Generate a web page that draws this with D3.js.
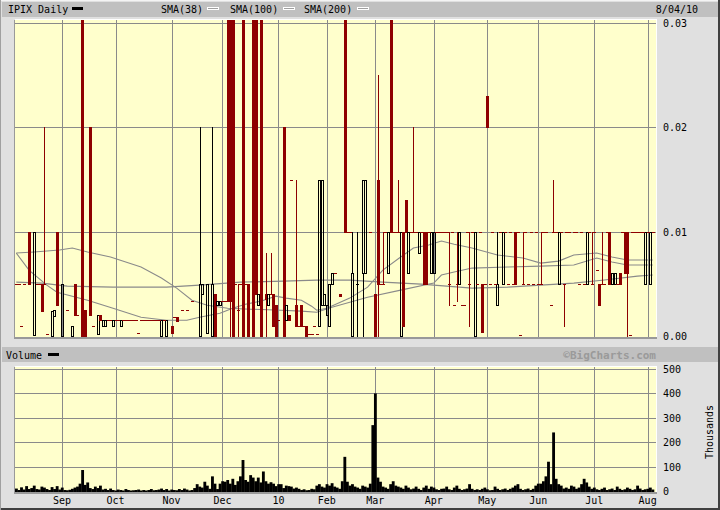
<!DOCTYPE html>
<html><head><meta charset="utf-8">
<script src="https://cdn.jsdelivr.net/npm/d3@7"></script>
<style>body{margin:0;background:#e0e0e0}svg{display:block}</style>
</head><body><svg id="c" width="720" height="510"></svg>
<script>
// ---- data ----
const monthLabels = ["Sep","Oct","Nov","Dec","10","Feb","Mar","Apr","May","Jun","Jul","Aug"];
const monthStartDays = [18,39,61,81,103,122,141,164,185,205,227,248];
const priceTicks = [0,0.01,0.02,0.03];
const volumeTicks = [0,100,200,300,400,500];
// [tradingDay, open, high, low, close, redFlag]
const candleRows = [
[5,.01,.01,.005,.005,1],[7,.0001,.01,.0001,.01,0],[10,.005,.005,.0024,.0024,1],[11,.005,.02,.005,.005,1],
[14,0,.0024,0,.0024,0],[15,.0019,.0025,.0019,.0025,0],[16,.01,.01,.003,.003,1],[18,0,.005,0,.005,0],
[22,0,.001,0,.001,0],[23,.005,.005,.002,.002,1],[26,.04,.04,0,0,1],[27,.0025,.0025,0,0,1],
[29,.02,.02,.002,.002,1],[32,.0002,.002,.0002,.002,0],[33,.002,.002,.0015,.0015,1],[34,.001,.0015,.001,.0015,0],
[35,.001,.0015,.001,.0015,0],[38,.001,.0015,.001,.0015,0],[41,.001,.0015,.001,.0015,0],[57,0,.0015,0,.0015,0],
[59,0,.0015,0,.0015,0],[61,.001,.001,.0003,.0003,1],[63,.0018,.0018,.0014,.0014,1],[72,0,.02,0,.005,0],
[73,.004,.005,.004,.005,0],[75,.0003,.005,.0003,.005,0],[77,0,.02,0,.005,0],[78,.004,.004,0,0,1],
[79,.003,.0034,.003,.0034,0],[80,.003,.0034,.003,.0034,0],[83,.04,.04,.0034,.0034,1],[84,.04,.04,0,.0034,1],
[85,.04,.04,0,0,1],[87,.0025,.005,0,.0025,1],[89,.04,.04,0,0,1],[91,.005,.005,0,0,1],
[93,.04,.04,0,0,1],[94,.04,.04,.004,.004,1],[95,.003,.004,.003,.004,0],[96,.04,.04,0,0,1],
[98,.004,.008,0,.0035,1],[99,.003,.004,.003,.004,0],[100,.004,.008,.004,.004,1],[101,.004,.004,.001,.001,1],
[102,.003,.003,0,0,1],[105,.02,.02,0,0,1],[106,.0015,.003,.0015,.003,0],[107,.002,.002,.0015,.0015,1],
[110,.003,.015,.001,.001,1],[112,.003,.003,.001,.001,1],[114,.001,.001,0,0,1],[119,.001,.015,.001,.015,0],
[120,.003,.015,.003,.015,0],[121,.003,.004,.003,.004,0],[122,.002,.003,.002,.003,0],[123,.001,.005,.001,.005,0],
[124,.005,.006,.005,.006,0],[127,.004,.004,.0038,.0038,1],[129,.04,.04,.01,.01,1],[132,0,.01,0,.006,0],
[134,.005,.01,0,.005,0],[136,.006,.015,0,.015,0],[137,.006,.015,.006,.015,0],[141,.004,.004,0,0,1],
[142,.015,.025,0,.005,1],[144,.005,.01,.005,.005,1],[146,.006,.01,.006,.01,0],[147,.04,.04,.01,.01,1],
[150,.01,.015,.01,.01,1],[151,0,.01,0,.01,0],[152,.01,.01,.001,.001,1],[153,.013,.013,.01,.01,1],
[154,.006,.01,.006,.01,0],[156,.01,.02,.01,.01,1],[158,.008,.01,.008,.01,0],[160,.01,.01,.005,.005,1],
[161,.01,.01,.005,.005,1],[163,.006,.01,.006,.01,0],[164,.006,.01,.006,.01,0],[170,.005,.01,.003,.005,1],
[173,.005,.01,.0034,.005,1],[174,.005,.01,.005,.01,0],[178,.005,.01,.001,.005,1],[180,0,.01,0,.01,0],
[183,.005,.005,.0004,.0004,1],[185,.023,.023,.02,.02,1],[189,.003,.01,.003,.005,0],[191,.005,.01,.005,.01,0],
[196,.01,.01,.005,.005,1],[199,.005,.01,.005,.005,1],[206,.005,.01,.005,.005,1],[211,.01,.015,.01,.01,1],
[213,.005,.01,.005,.01,0],[215,.005,.005,.001,.005,1],[224,.005,.01,.005,.01,0],[226,.005,.01,.005,.005,1],
[229,.005,.005,.003,.003,1],[230,.005,.01,.005,.005,1],[233,.01,.01,.005,.005,1],[234,.005,.006,.005,.006,0],
[235,.005,.006,.005,.006,0],[237,.006,.006,.005,.005,1],[239,.01,.01,.006,.006,1],[240,.01,.01,0,.006,1],
[247,.005,.01,.005,.01,0],[249,.005,.01,.005,.01,0]
];
// [tradingDay, price] days where open = close (flat dash)
const flatRows = [
[0,.005],[1,.005],[2,.001],[3,.005],[8,.005],[9,.005],[12,.0002],[20,.0025],[24,.002],[30,.001],
[36,.0015],[37,.0015],[39,.0015],[40,.0015],[42,.0015],[43,.0015],[44,.0015],[45,.0015],[46,.0015],[47,.0015],
[48,.0003],[49,.0015],[50,.0015],[51,.0015],[52,.0015],[53,.0015],[54,.0015],[55,.0015],[56,.0015],[58,.0015],
[62,.0018],[65,.0025],[67,.0025],[69,.0034],[81,.0034],[82,.0034],[86,.005],[88,.005],[90,.005],[103,.0015],
[108,.015],[111,.001],[113,.001],[115,.0002],[116,.0002],[117,.001],[118,.0002],[125,.006],[130,.01],[131,.01],
[139,.01],[143,.005],[145,.01],[148,.01],[149,.01],[155,.01],[157,.01],[159,.01],[162,.01],[165,.01],
[166,.01],[167,.01],[168,.01],[169,.01],[171,.01],[172,.003],[175,.003],[176,.003],[177,.01],[179,.01],
[181,.005],[182,.01],[184,.005],[186,.005],[187,.01],[188,.005],[190,.01],[192,.01],[193,.005],[194,.01],
[195,.005],[197,.01],[198,0],[200,.01],[201,.005],[202,.01],[203,.005],[204,.01],[205,.005],[207,.01],
[208,.01],[210,.003],[212,.01],[214,.01],[216,.01],[217,.01],[219,.01],[220,.01],[221,.005],[222,.01],
[223,.005],[225,.01],[227,.01],[228,.0063],[231,.005],[232,.01],[236,.005],[238,.01],[241,0],[242,.01],
[243,.01],[244,.01],[245,.01],[246,.01],[248,.01],[250,.01]
];
// moving averages read at sample days: [tradingDay, value]
const sma38 = [[0,.00795],[5,.00632],[12,.00488],[16,.0042],[28,.00343],[38,.00266],[49,.0018],[59,.00151],[67,.00151],[72,.0018],[80,.00218],[85,.00266],[90,.00305],[96,.00334],[102,.00382],[106,.00363],[112,.00343],[116,.00286],[118,.00247],[122,.00266],[131,.00363],[138,.00468],[144,.00632],[151,.00757],[156,.00843],[162,.00872],[167,.00911],[172,.0088],[179,.00843],[189,.00776],[199,.00747],[206,.00699],[213,.00718],[219,.00776],[228,.00795],[234,.00757],[240,.00728],[245,.00728],[250,.00728]];
const sma100 = [[0,.00795],[7,.00805],[17,.00824],[22,.00843],[28,.00805],[37,.00757],[49,.00661],[57,.00555],[63,.00459],[69,.00343],[75,.00295],[83,.00266],[92,.00257],[104,.00247],[112,.00238],[118,.00228],[124,.00276],[138,.00372],[151,.0044],[164,.00507],[167,.00584],[172,.00613],[179,.00651],[193,.00661],[206,.0067],[219,.0068],[228,.00747],[234,.00709],[240,.0068],[250,.0068]];
const sma200 = [[0,.00516],[10,.00507],[20,.00478],[38,.00468],[59,.00468],[72,.00488],[88,.00516],[105,.00526],[118,.00536],[131,.00536],[144,.00516],[159,.00497],[169,.00478],[179,.00459],[193,.00468],[206,.00488],[219,.00507],[231,.00536],[244,.00574],[250,.00584]];
// volume in thousands, one per trading day 0..250
const volume = [
10,4,15,6,20,8,12,22,8,6, 18,14,8,4,16,8,20,6,14,4, 3,5,9,14,18,30,86,25,35,12,
8,18,12,22,6,9,4,10,4,2, 6,4,2,8,4,2,3,4,6,2, 4,2,4,8,3,4,6,10,4,8,
2,6,4,3,8,4,10,6,2,4, 12,28,18,14,38,22,9,60,30,8, 30,40,38,45,30,50,25,40,60,127,
45,38,65,55,40,55,35,80,40,30, 36,30,20,28,28,12,22,20,18,10, 14,9,4,7,3,4,9,7,22,28,
18,14,28,22,32,18,14,9,40,140, 38,22,28,18,14,9,22,18,14,30, 270,400,55,38,18,14,9,28,40,22,
18,14,9,22,14,7,10,18,9,4, 14,22,9,18,14,7,4,9,10,18, 7,4,14,22,9,4,7,10,28,9,
4,7,4,9,14,7,3,4,18,9, 4,7,10,4,9,14,22,28,9,4, 7,10,4,9,22,30,30,40,60,120,
28,240,50,28,22,10,14,9,22,18, 9,14,28,50,35,18,9,14,7,4, 9,14,4,7,10,4,18,9,4,7,
14,9,4,7,22,10,4,7,9,14, 6
];

// ---- drawing ----
const svg = d3.select('#c');
const FONT = "'DejaVu Sans Mono', monospace";
const RED = '#8e0000', GRID = '#8a8a8a', SMA = '#8a8a8a';
const P = {l:15, r:656, t:20, b:337};
const V = {l:15, r:656, t:367, b:492};
const x = d3.scaleLinear().domain([-0.5, 250.5]).range([15, 654]);
const yP = d3.scaleLinear().domain([0, 0.03]).range([336, 23]);
const yV = d3.scaleLinear().domain([0, 500]).range([491, 369]);

// frame
svg.append('rect').attr('width',720).attr('height',510).attr('fill','#e0e0e0');
svg.append('rect').attr('x',2).attr('y',2).attr('width',716).attr('height',15).attr('fill','#c0c0c0');
svg.append('rect').attr('x',2).attr('y',347).attr('width',716).attr('height',15).attr('fill','#c0c0c0');
svg.append('line').attr('x1',0).attr('x2',720).attr('y1',0.5).attr('y2',0.5).attr('stroke','#f4f4f4');
svg.append('line').attr('x1',719).attr('x2',719).attr('y1',0).attr('y2',510).attr('stroke','#404040').attr('stroke-width',2);
svg.append('line').attr('x1',0).attr('x2',720).attr('y1',509).attr('y2',509).attr('stroke','#404040').attr('stroke-width',2);
svg.append('line').attr('x1',0.5).attr('x2',0.5).attr('y1',0).attr('y2',510).attr('stroke','#a0a0a0');

function panel(b){
  svg.append('rect').attr('x',b.l).attr('y',b.t).attr('width',b.r-b.l).attr('height',b.b-b.t).attr('fill','#ffffcc');
  svg.append('line').attr('x1',b.l-1).attr('x2',b.r+1).attr('y1',b.b+1).attr('y2',b.b+1).attr('stroke','#999').attr('stroke-width',2);
  svg.append('line').attr('x1',b.l-0.5).attr('x2',b.l-0.5).attr('y1',b.t).attr('y2',b.b+1).attr('stroke','#999');
  svg.append('line').attr('x1',b.r+0.5).attr('x2',b.r+0.5).attr('y1',b.t).attr('y2',b.b).attr('stroke','#fff');
  svg.append('line').attr('x1',b.l).attr('x2',b.r+1).attr('y1',b.t-0.5).attr('y2',b.t-0.5).attr('stroke','#fff');
}
panel(P); panel(V);

const defs = svg.append('defs');
defs.append('clipPath').attr('id','cp').append('rect').attr('x',P.l).attr('y',P.t).attr('width',P.r-P.l).attr('height',P.b-P.t);
defs.append('clipPath').attr('id','cv').append('rect').attr('x',V.l).attr('y',V.t).attr('width',V.r-V.l).attr('height',V.b-V.t);

// grids
const gg = svg.append('g').attr('shape-rendering','crispEdges').attr('stroke',GRID);
monthStartDays.forEach(d=>{
  const xx = Math.round(x(d))+0.5;
  gg.append('line').attr('x1',xx).attr('x2',xx).attr('y1',P.t).attr('y2',P.b);
  gg.append('line').attr('x1',xx).attr('x2',xx).attr('y1',V.t).attr('y2',V.b);
});
priceTicks.filter(t=>t>0).forEach(t=>{
  const yy = Math.round(yP(t))+0.5;
  gg.append('line').attr('x1',P.l).attr('x2',P.r).attr('y1',yy).attr('y2',yy);
});
volumeTicks.filter(t=>t>0).forEach(t=>{
  const yy = Math.round(yV(t))+0.5;
  gg.append('line').attr('x1',V.l).attr('x2',V.r).attr('y1',yy).attr('y2',yy);
});

// SMAs
const gp = svg.append('g').attr('clip-path','url(#cp)');
const line = d3.line().x(d=>x(d[0])).y(d=>yP(d[1]));
[sma38, sma100, sma200].forEach(s=>{
  gp.append('path').attr('d',line(s)).attr('fill','none').attr('stroke',SMA).attr('stroke-width',1.1);
});

// candles
const gc = gp.append('g').attr('shape-rendering','crispEdges');
const candles = candleRows.map(r=>({day:r[0],open:r[1],high:r[2],low:r[3],close:r[4],red:r[5]}));
function vline(cx,y1,y2,col){ if (y2>y1) gc.append('line').attr('x1',cx+0.5).attr('x2',cx+0.5).attr('y1',y1).attr('y2',y2).attr('stroke',col); }
candles.forEach(d=>{
  const cx = Math.round(x(d.day));
  const col = d.red ? RED : '#000';
  const yo = Math.round(yP(d.open)), yc = Math.round(yP(d.close));
  const yh = Math.round(yP(d.high)), yl = Math.round(yP(d.low));
  const top = Math.min(yo,yc), bot = Math.max(yo,yc);
  if (d.close < d.open) {
    vline(cx,yh,top,col); vline(cx,bot,yl+1,col);
    gc.append('rect').attr('x',cx-1).attr('y',yo).attr('width',3).attr('height',Math.max(1,yc-yo+1)).attr('fill',col);
  } else if (d.close > d.open) {
    vline(cx,yh,top,col); vline(cx,bot+1,yl+1,col);
    gc.append('rect').attr('x',cx-0.5).attr('y',yc+0.5).attr('width',2).attr('height',Math.max(1,yo-yc)).attr('fill','none').attr('stroke',col);
  } else {
    vline(cx,yh,yl+1,col);
    gc.append('line').attr('x1',cx-1).attr('x2',cx+2).attr('y1',yc+0.5).attr('y2',yc+0.5).attr('stroke',col);
  }
});
flatRows.forEach(r=>{
  const cx = Math.round(x(r[0])), yy = Math.min(Math.round(yP(r[1])),335);
  gc.append('line').attr('x1',cx-1).attr('x2',cx+2).attr('y1',yy+0.5).attr('y2',yy+0.5).attr('stroke',RED);
});

// volume
const gv = svg.append('g').attr('clip-path','url(#cv)');
const step = x(1)-x(0);
gv.selectAll('rect.v').data(volume).join('rect').attr('class','v')
  .attr('x',(d,i)=>x(i)-step/2).attr('width',step+0.3)
  .attr('y',d=>yV(d)).attr('height',d=>yV(0)-yV(d)+1).attr('fill','#000');

// axis labels
const tx = svg.append('g').attr('font-family',FONT).attr('font-size',10).attr('fill','#000');
priceTicks.forEach(t=>{
  tx.append('text').attr('x',663).attr('y',yP(t)+4).text(d3.format('.2f')(t));
});
volumeTicks.forEach(t=>{
  tx.append('text').attr('x',663).attr('y',yV(t)+4).text(t);
});
monthLabels.forEach((m,i)=>{
  tx.append('text').attr('x',x(monthStartDays[i])).attr('y',504).attr('text-anchor','middle').text(m);
});
tx.append('text').attr('transform','translate(713,432) rotate(-90)').attr('text-anchor','middle').text('Thousands');

// header legend
const hd = svg.append('g').attr('font-family',FONT).attr('font-size',10).attr('fill','#000');
hd.append('text').attr('x',8).attr('y',13).text('IPIX Daily');
svg.append('rect').attr('x',72).attr('y',7).attr('width',11).attr('height',3).attr('fill','#000');
[['SMA(38)',161,207],['SMA(100)',230,283],['SMA(200)',304,357]].forEach(s=>{
  hd.append('text').attr('x',s[1]).attr('y',13).text(s[0]);
  svg.append('rect').attr('x',s[2]+0.5).attr('y',7.5).attr('width',11).attr('height',2).attr('fill','#a0a0a0').attr('stroke','#fff');
});
hd.append('text').attr('x',698).attr('y',13).attr('text-anchor','end').text('8/04/10');
hd.append('text').attr('x',6).attr('y',359).text('Volume');
svg.append('rect').attr('x',48).attr('y',353).attr('width',11).attr('height',3).attr('fill','#000');
svg.append('text').attr('x',656).attr('y',359).attr('text-anchor','end').attr('font-family',FONT)
  .attr('font-size',11).attr('font-weight','bold').attr('fill','#9a9a9a').text('©BigCharts.com');
</script>
</body></html>
